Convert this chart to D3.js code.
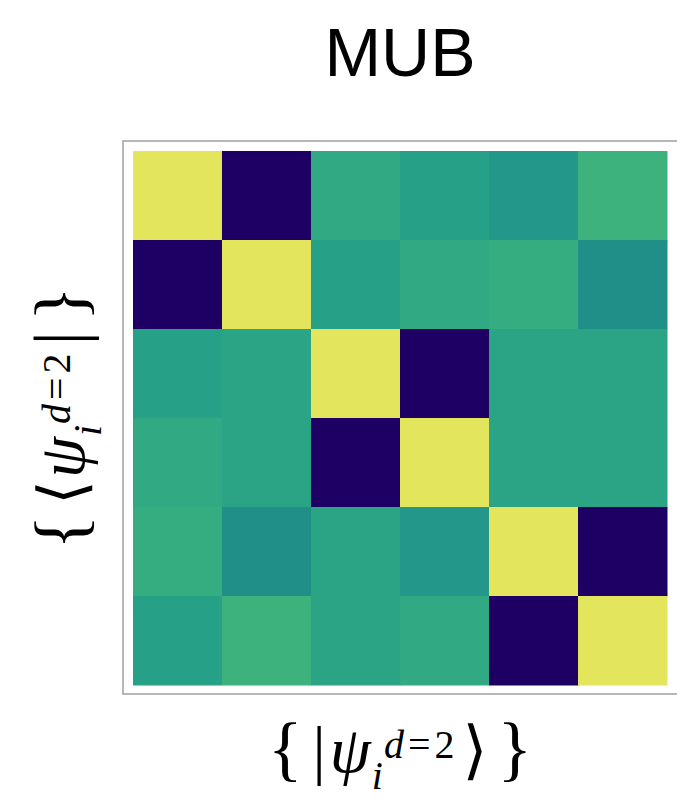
<!DOCTYPE html>
<html>
<head>
<meta charset="utf-8">
<script src="https://cdn.jsdelivr.net/npm/d3@7"></script>
<style>
  html, body { margin: 0; padding: 0; background: #fff; }
  svg { display: block; }
</style>
</head>
<body>
<svg id="chart" width="677" height="807"></svg>
<script>
// ---- data ----
const title = "MUB";
const rowLabels = ["r0", "r1", "r2", "r3", "r4", "r5"];
const colLabels = ["c0", "c1", "c2", "c3", "c4", "c5"];
const row0 = [1.00, 0.00, 0.575, 0.53, 0.51, 0.63];
const row1 = [0.00, 1.00, 0.53, 0.575, 0.595, 0.48];
const row2 = [0.53, 0.55, 1.00, 0.00, 0.55, 0.55];
const row3 = [0.575, 0.55, 0.00, 1.00, 0.55, 0.55];
const row4 = [0.595, 0.48, 0.55, 0.51, 1.00, 0.00];
const row5 = [0.53, 0.63, 0.55, 0.575, 0.00, 1.00];
const values = [row0, row1, row2, row3, row4, row5];

// colormap (viridis-like, as rendered in the reference)
const cmapDomain = [0, 0.48, 0.51, 0.53, 0.55, 0.575, 0.595, 0.63, 1];
const cmapRange = ["#1e0064", "#1f8f87", "#23988a", "#26a087", "#2ba486", "#31a983", "#35ad80", "#3db27c", "#e3e55c"];

// ---- layout ----
const svg = d3.select("#chart");
const hm = { left: 133, top: 151, size: 534 };

const color = d3.scaleLinear().domain(cmapDomain).range(cmapRange).interpolate(d3.interpolateRgb);
const x = d3.scaleBand().domain(colLabels).range([hm.left, hm.left + hm.size]);
const y = d3.scaleBand().domain(rowLabels).range([hm.top, hm.top + hm.size]);

// frame
svg.append("rect")
  .attr("x", 123).attr("y", 141)
  .attr("width", 600).attr("height", 553)
  .attr("fill", "none")
  .attr("stroke", "#a6a6a6")
  .attr("stroke-width", 1.6);

// cells
const cells = [];
values.forEach((row, i) => row.forEach((v, j) => cells.push({ r: rowLabels[i], c: colLabels[j], v })));
svg.append("g").selectAll("rect").data(cells).join("rect")
  .attr("x", d => x(d.c))
  .attr("y", d => y(d.r))
  .attr("width", x.bandwidth() + 0.5)
  .attr("height", y.bandwidth() + 0.5)
  .attr("fill", d => color(d.v));

// title
svg.append("text")
  .attr("x", hm.left + hm.size / 2)
  .attr("y", 76)
  .attr("text-anchor", "middle")
  .attr("font-family", "Liberation Sans, Arial, sans-serif")
  .attr("font-size", 68)
  .attr("fill", "#000")
  .text(title);

// math label builder: one <text> with tspans
const serif = "Liberation Serif, DejaVu Serif, serif";
function mathLabel(g, pieces) {
  const supSize = 40, supRise = 14, subDrop = 17;
  const t = g.append("text").attr("x", 0).attr("y", 0)
    .attr("font-family", serif).attr("fill", "#000");
  let pendingDx = 0;
  let level = 0; // current baseline offset (positive = below main baseline)
  const setLevel = (target) => { const d = target - level; level = target; return d; };
  pieces.forEach(p => {
    if (p.gap) { pendingDx += p.gap; return; }
    if (p.sub !== undefined) {
      // subscript first, then superscript to its right
      t.append("tspan").attr("font-size", supSize).attr("font-style", "italic")
        .attr("dx", pendingDx + 1)
        .attr("dy", setLevel(subDrop))
        .text(p.sub);
      p.sup.forEach((ch, k) => {
        t.append("tspan").attr("font-size", supSize)
          .attr("font-style", ch.it ? "italic" : "normal")
          .attr("dx", k === 0 ? 1 : 4)
          .attr("dy", k === 0 ? setLevel(-supRise) : 0)
          .text(ch.t);
      });
      pendingDx = 0;
      return;
    }
    t.append("tspan")
      .attr("font-size", p.size)
      .attr("font-style", p.italic ? "italic" : "normal")
      .attr("dx", pendingDx)
      .attr("dy", setLevel(0))
      .text(p.t);
    pendingDx = 0;
  });
  const bb = t.node().getBBox();
  t.attr("x", -(bb.x + bb.width / 2));
}

const supChars = [{ t: "d", it: true }, { t: "=" }, { t: "2" }];

// x label
const gx = svg.append("g").attr("transform", `translate(${hm.left + hm.size / 2}, 772)`);
mathLabel(gx, [
  { t: "{", size: 72 }, { gap: 10 }, { t: "|", size: 66 }, { gap: 4 }, { t: "ψ", italic: true, size: 66 },
  { sup: supChars, sub: "i" }, { gap: 8 }, { t: "⟩", size: 64 }, { gap: 10 }, { t: "}", size: 72 }
]);

// y label
const gy = svg.append("g").attr("transform", `translate(84, ${hm.top + hm.size / 2}) rotate(-90)`);
mathLabel(gy, [
  { t: "{", size: 72 }, { gap: 10 }, { t: "⟨", size: 64 }, { gap: 2 }, { t: "ψ", italic: true, size: 66 },
  { sup: supChars, sub: "i" }, { gap: 8 }, { t: "|", size: 72 }, { gap: 10 }, { t: "}", size: 72 }
]);
</script>
</body>
</html>
